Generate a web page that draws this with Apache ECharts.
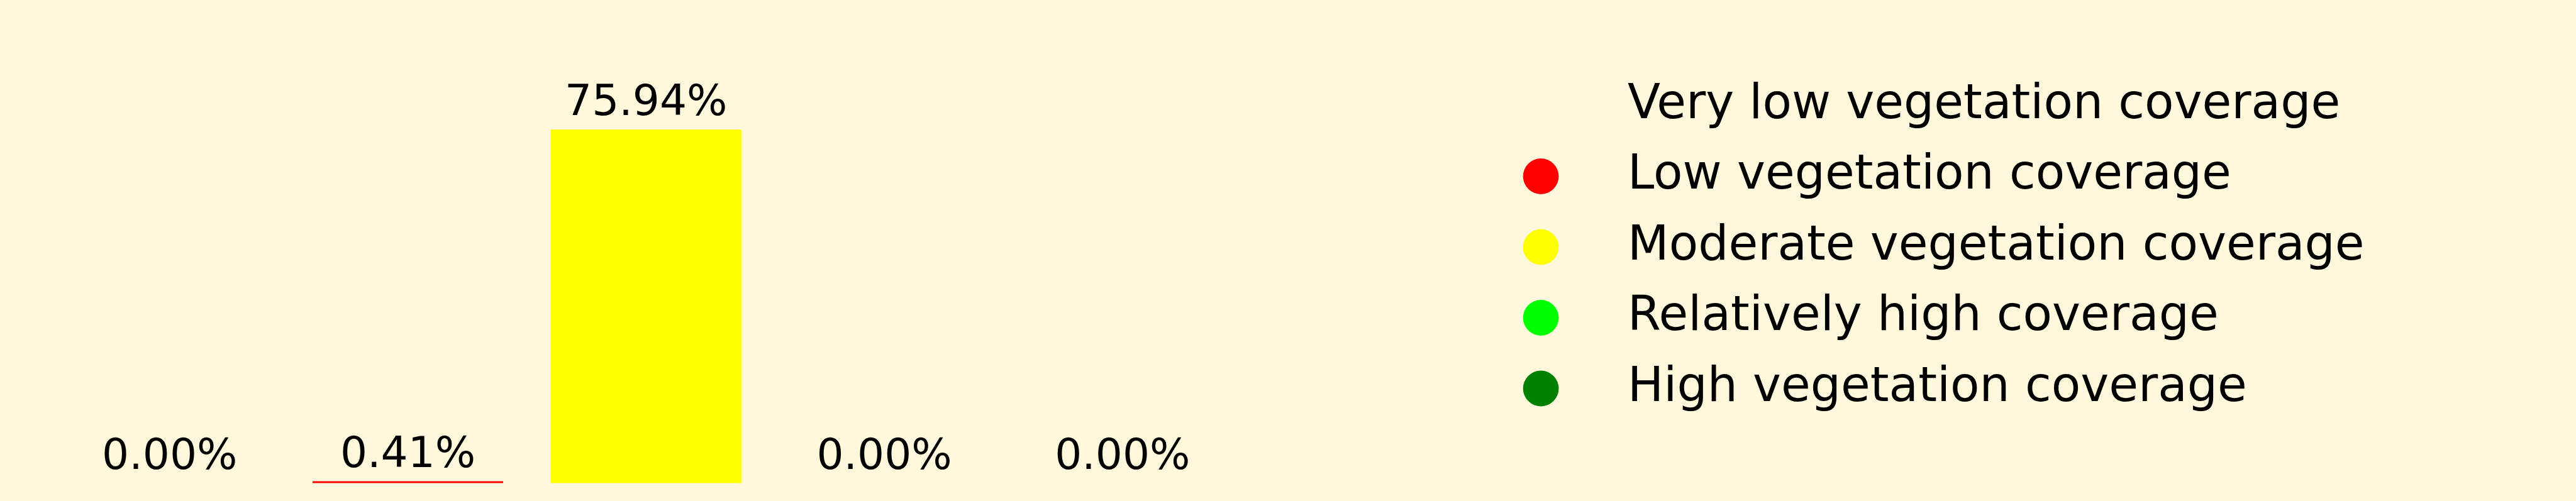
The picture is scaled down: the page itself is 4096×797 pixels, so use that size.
<!DOCTYPE html>
<html>
<head>
<meta charset="utf-8">
<script src="https://cdn.jsdelivr.net/npm/echarts@6/dist/echarts.min.js"></script>
<style>
html,body{margin:0;padding:0;background:#fff8dc;}
#chart{width:4096px;height:797px;}
</style>
</head>
<body>
<div id="chart"></div>
<script>
const categories = ['Very low vegetation coverage','Low vegetation coverage','Moderate vegetation coverage','Relatively high coverage','High vegetation coverage'];
const values = [0, 0.41, 75.94, 0, 0];
const colors = ['#fff8dc', '#ff0000', '#ffff00', '#00ff00', '#008000'];

const S = 0.916;
const FONT = 'DejaVu Sans';

const series = categories.map((name, i) => ({
  name: name,
  type: 'bar',
  stack: 'total',
  barWidth: '80%',
  itemStyle: { color: colors[i] },
  label: {
    show: true,
    position: 'top',
    distance: 6.5,
    color: '#000',
    fontFamily: FONT,
    fontSize: 74 * S,
    formatter: p => Number(p.value).toFixed(2) + '%'
  },
  data: categories.map((c, j) => j === i ? values[j] : '-')
}));

const chart = echarts.init(document.getElementById('chart'));
chart.setOption({
  animation: false,
  backgroundColor: '#fff8dc',
  grid: { left: 87.75 * S, width: 2067.5 * S, top: 768.5 - 80 * 8.085 * S, bottom: 797 - 768.5 },
  xAxis: { type: 'category', data: categories, show: false },
  yAxis: { type: 'value', min: 0, max: 80, show: false },
  legend: {
    orient: 'vertical',
    left: 2448.7 - 133 + 106,
    top: 124,
    padding: 0,
    icon: 'circle',
    itemWidth: 266,
    itemHeight: 62 * S,
    itemGap: 112.5 - 88,
    selectedMode: false,
    data: categories,
    textStyle: { fontFamily: FONT, fontSize: 83 * S, lineHeight: 77, padding: [11, 0, 0, 0], color: '#000' }
  },
  series: series
});
</script>
</body>
</html>
